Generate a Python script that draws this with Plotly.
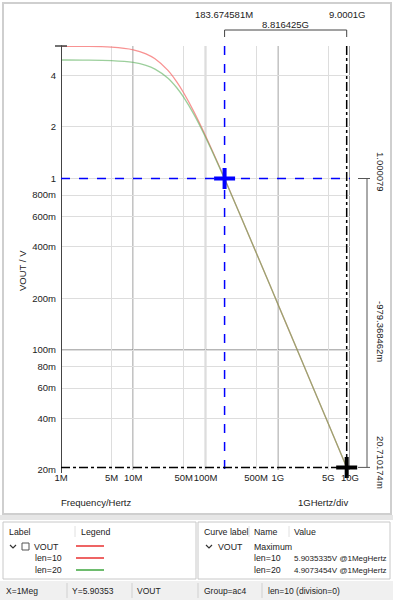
import math
import plotly.graph_objects as go

# ---------------- data ----------------
freq_hz = [1e6, 2e6, 5e6, 1e7, 1.5e7, 2e7, 3e7, 4e7, 5e7, 7e7, 1e8, 1.5e8,
           2e8, 3e8, 5e8, 1e9, 2e9, 5e9, 1e10]
vout_len10 = [5.9005, 5.8917, 5.8308, 5.6279, 5.3322, 4.9870, 4.2794, 3.6574,
              3.1518, 2.4271, 1.7773, 1.2158, 0.92047, 0.61783, 0.37200,
              0.18628, 0.093175, 0.037274, 0.018637]
vout_len20 = [4.9056, 4.9005, 4.8653, 4.7456, 4.5642, 4.3421, 3.8508, 3.3790,
              2.9684, 2.3403, 1.7424, 1.2045, 0.91553, 0.61634, 0.37169,
              0.18625, 0.093173, 0.037275, 0.018638]
series_names = ["len=10", "len=20"]
series_max_text = ["5.9035335V @1MegHertz", "4.9073454V @1MegHertz"]

x_tick_vals = [1e6, 5e6, 1e7, 5e7, 1e8, 5e8, 1e9, 5e9, 1e10]
x_tick_text = ["1M", "5M", "10M", "50M", "100M", "500M", "1G", "5G", "10G"]
x_decades = [1e7, 1e8, 1e9, 1e10]
y_tick_vals = [0.02, 0.04, 0.06, 0.08, 0.1, 0.2, 0.4, 0.6, 0.8, 1, 2, 4]
y_tick_text = ["20m", "40m", "60m", "80m", "100m", "200m", "400m", "600m",
               "800m", "1", "2", "4"]
y_decades = [0.1]
y_range = [0.02, 5.92]
x_range = [1e6, 1e10]

ref_xy = [183.674581e6, 1.000079]
a_xy = [9.0001e9, 0.020710174]
ref_x_text = "183.674581M"
a_x_text = "9.0001G"
dx_text = "8.816425G"
ref_y_text = "1.000079"
a_y_text = "20.710174m"
dy_text = "-979.368462m"

# ---------------- geometry helpers ----------------
W, H = 393, 600
L, R, T, B = 61, 350, 46, 470
FONT = "Liberation Sans, Arial, sans-serif"


def px(x):
    return (x - L) / (R - L)


def py(y):
    return (B - y) / (B - T)


shapes = []
annotations = []


def ann(text, x, y, size=9.5, color="#222222", xanchor="center",
        yanchor="middle", angle=0, xref="paper", yref="paper"):
    annotations.append(dict(text=text, x=x, y=y, xref=xref, yref=yref,
                            showarrow=False, xanchor=xanchor, yanchor=yanchor,
                            textangle=angle,
                            font=dict(family=FONT, size=size, color=color)))


def line(x0, y0, x1, y1, color, width=1, dash="solid", xref="paper",
         yref="paper", layer="above"):
    shapes.append(dict(type="line", x0=x0, y0=y0, x1=x1, y1=y1, xref=xref,
                       yref=yref, layer=layer,
                       line=dict(color=color, width=width, dash=dash)))


def rect(x0, y0, x1, y1, line_color, fill="rgba(0,0,0,0)", width=1,
         layer="above"):
    shapes.append(dict(type="rect", x0=px(x0), y0=py(y0), x1=px(x1),
                       y1=py(y1), xref="paper", yref="paper", layer=layer,
                       fillcolor=fill, line=dict(color=line_color, width=width)))


fig = go.Figure()

# curves
fig.add_trace(go.Scatter(x=freq_hz, y=vout_len10, mode="lines",
                         line=dict(color="rgba(245,110,110,0.75)", width=1.3,
                                   shape="spline"), name=series_names[0]))
fig.add_trace(go.Scatter(x=freq_hz, y=vout_len20, mode="lines",
                         line=dict(color="rgba(90,175,90,0.6)", width=1.3,
                                   shape="spline"), name=series_names[1]))

# decade grid lines (darker)
for xd in x_decades:
    line(xd, 0, xd, 1, "#6e6e6e", 1.3, xref="x", layer="below")
for yd in y_decades:
    line(0, yd, 1, yd, "#6e6e6e", 1.3, yref="y", layer="below")

# left axis line and top cap
line(x_range[0], 1.002, x_range[0], py(473), "#444444", 2, xref="x")
line(px(55), 1.0, px(67), 1.0, "#444444", 1.5)

# cursors
line(ref_xy[0], 1, ref_xy[0], py(473), "#0000ff", 1.5, "dash", xref="x")
line(0, ref_xy[1], 1, ref_xy[1], "#0000ff", 1.5, "dash", yref="y")
line(a_xy[0], 1, a_xy[0], py(473), "#000000", 1.5, "dashdot", xref="x")
line(0, a_xy[1], 1, a_xy[1], "#000000", 1.5, "dashdot", yref="y")

fig.add_trace(go.Scatter(x=[ref_xy[0]], y=[ref_xy[1]], mode="markers",
                         marker=dict(symbol="cross-thin", size=15,
                                     line=dict(color="#0000ff", width=4)),
                         showlegend=False))
fig.add_trace(go.Scatter(x=[a_xy[0]], y=[a_xy[1]], mode="markers",
                         marker=dict(symbol="cross-thin", size=15,
                                     line=dict(color="#000000", width=4)),
                         showlegend=False, cliponaxis=False))

# top delta bracket
line(ref_xy[0], py(30), a_xy[0], py(30), "#444444", 1, xref="x")
line(ref_xy[0], py(30), ref_xy[0], py(37), "#444444", 1, xref="x")
line(a_xy[0], py(30), a_xy[0], py(37), "#444444", 1, xref="x")
ann(ref_x_text, px(224), py(15))
ann(a_x_text, px(347), py(15))
ann(dx_text, px(285), py(24))

# right delta bracket
line(px(367), ref_xy[1], px(367), a_xy[1], "#555555", 1, yref="y")
line(px(358), ref_xy[1], px(370), ref_xy[1], "#555555", 1, yref="y")
line(px(358), a_xy[1], px(370), a_xy[1], "#555555", 1, yref="y")
ann(ref_y_text, px(381), py(172), angle=90)
ann(dy_text, px(381), py(331), angle=90)
ann(a_y_text, px(381), py(462), angle=90)

# axis captions
ann("REF", ref_xy[0], py(493), color="#3a3aff", xref="x")
ann("A", a_xy[0], py(493), xref="x")
ann("Frequency/Hertz", px(96), py(503))
ann("1GHertz/div", px(323), py(503))
ann("VOUT / V", px(22), py(270), angle=-90)

# outer frame of chart
rect(3, 3, 391, 514, "#cfcfcf", width=2, layer="below")
rect(0, 515, 393, 520, "rgba(0,0,0,0)", fill="#e6e6e6", width=0, layer="below")

# bottom tables
rect(3, 522, 196, 579, "#c8c8c8", fill="#ffffff")
rect(198, 522, 390, 579, "#c8c8c8", fill="#ffffff")
line(px(75), py(526), px(75), py(537), "#e0e0e0", 1)
line(px(249), py(526), px(249), py(537), "#e0e0e0", 1)
line(px(289), py(526), px(289), py(537), "#e0e0e0", 1)

PS = 8.8
ann("Label", px(7), py(532), size=PS, xanchor="left")
ann("Legend", px(79), py(532), size=PS, xanchor="left")
# chevrons
for cx in (10, 206):
    shapes.append(dict(type="path", xref="paper", yref="paper",
                       path=f"M {px(cx)},{py(545)} L {px(cx+3)},{py(548)} L {px(cx+6)},{py(545)}",
                       line=dict(color="#333333", width=1.2)))
rect(22, 543, 29, 550, "#555555", fill="#ffffff")
ann("VOUT", px(32), py(547), size=PS, xanchor="left")
ann(series_names[0], px(33), py(558), size=PS, xanchor="left")
ann(series_names[1], px(33), py(570), size=PS, xanchor="left")
line(px(76), py(546), px(104), py(546), "#e83030", 1.5)
line(px(76), py(558), px(104), py(558), "#e83030", 1.5)
line(px(76), py(570), px(104), py(570), "#3ea63e", 1.5)

ann("Curve label", px(202), py(532), size=PS, xanchor="left")
ann("Name", px(252), py(532), size=PS, xanchor="left")
ann("Value", px(292), py(532), size=PS, xanchor="left")
ann("VOUT", px(216), py(547), size=PS, xanchor="left")
ann("Maximum", px(252), py(547), size=PS, xanchor="left")
ann(series_names[0], px(252), py(558), size=PS, xanchor="left")
ann(series_names[1], px(252), py(570), size=PS, xanchor="left")
ann(series_max_text[0], px(292), py(558), size=8.0, xanchor="left")
ann(series_max_text[1], px(292), py(570), size=8.0, xanchor="left")

# status bar
rect(0, 581, 393, 600, "rgba(0,0,0,0)", fill="#f0f0f0", width=0, layer="below")
for sx in (67, 132, 198, 262):
    line(px(sx), py(583), px(sx), py(598), "#d0d0d0", 1)
ann("X=1Meg", px(4), py(591), size=8.5, xanchor="left")
ann("Y=5.90353", px(70), py(591), size=8.5, xanchor="left")
ann("VOUT", px(135), py(591), size=8.5, xanchor="left")
ann("Group=ac4", px(202), py(591), size=8.5, xanchor="left")
ann("len=10 (division=0)", px(266), py(591), size=8.5, xanchor="left")

fig.update_layout(
    width=W, height=H, autosize=False,
    margin=dict(l=L, r=W - R, t=T, b=H - B, pad=0),
    paper_bgcolor="#ffffff", plot_bgcolor="#ffffff",
    showlegend=False,
    font=dict(family=FONT, size=9.5, color="#222222"),
    shapes=shapes, annotations=annotations,
    xaxis=dict(type="log", range=[math.log10(x_range[0]), math.log10(x_range[1])],
               tickvals=x_tick_vals, ticktext=x_tick_text, showgrid=True,
               gridcolor="#dddddd", gridwidth=1, zeroline=False, tickangle=0,
               showline=False, ticks="", tickfont=dict(size=9.5, color="#222222")),
    yaxis=dict(type="log", range=[math.log10(y_range[0]), math.log10(y_range[1])],
               tickvals=y_tick_vals, ticktext=y_tick_text, showgrid=True,
               gridcolor="#dddddd", gridwidth=1, zeroline=False,
               showline=False, ticks="", ticklabelstandoff=4,
               tickfont=dict(size=9.5, color="#222222")),
)

fig.write_html(
    "out.html",
    config={"displayModeBar": False},
    post_script="document.body.style.margin='0';document.body.style.overflow='hidden';",
)
